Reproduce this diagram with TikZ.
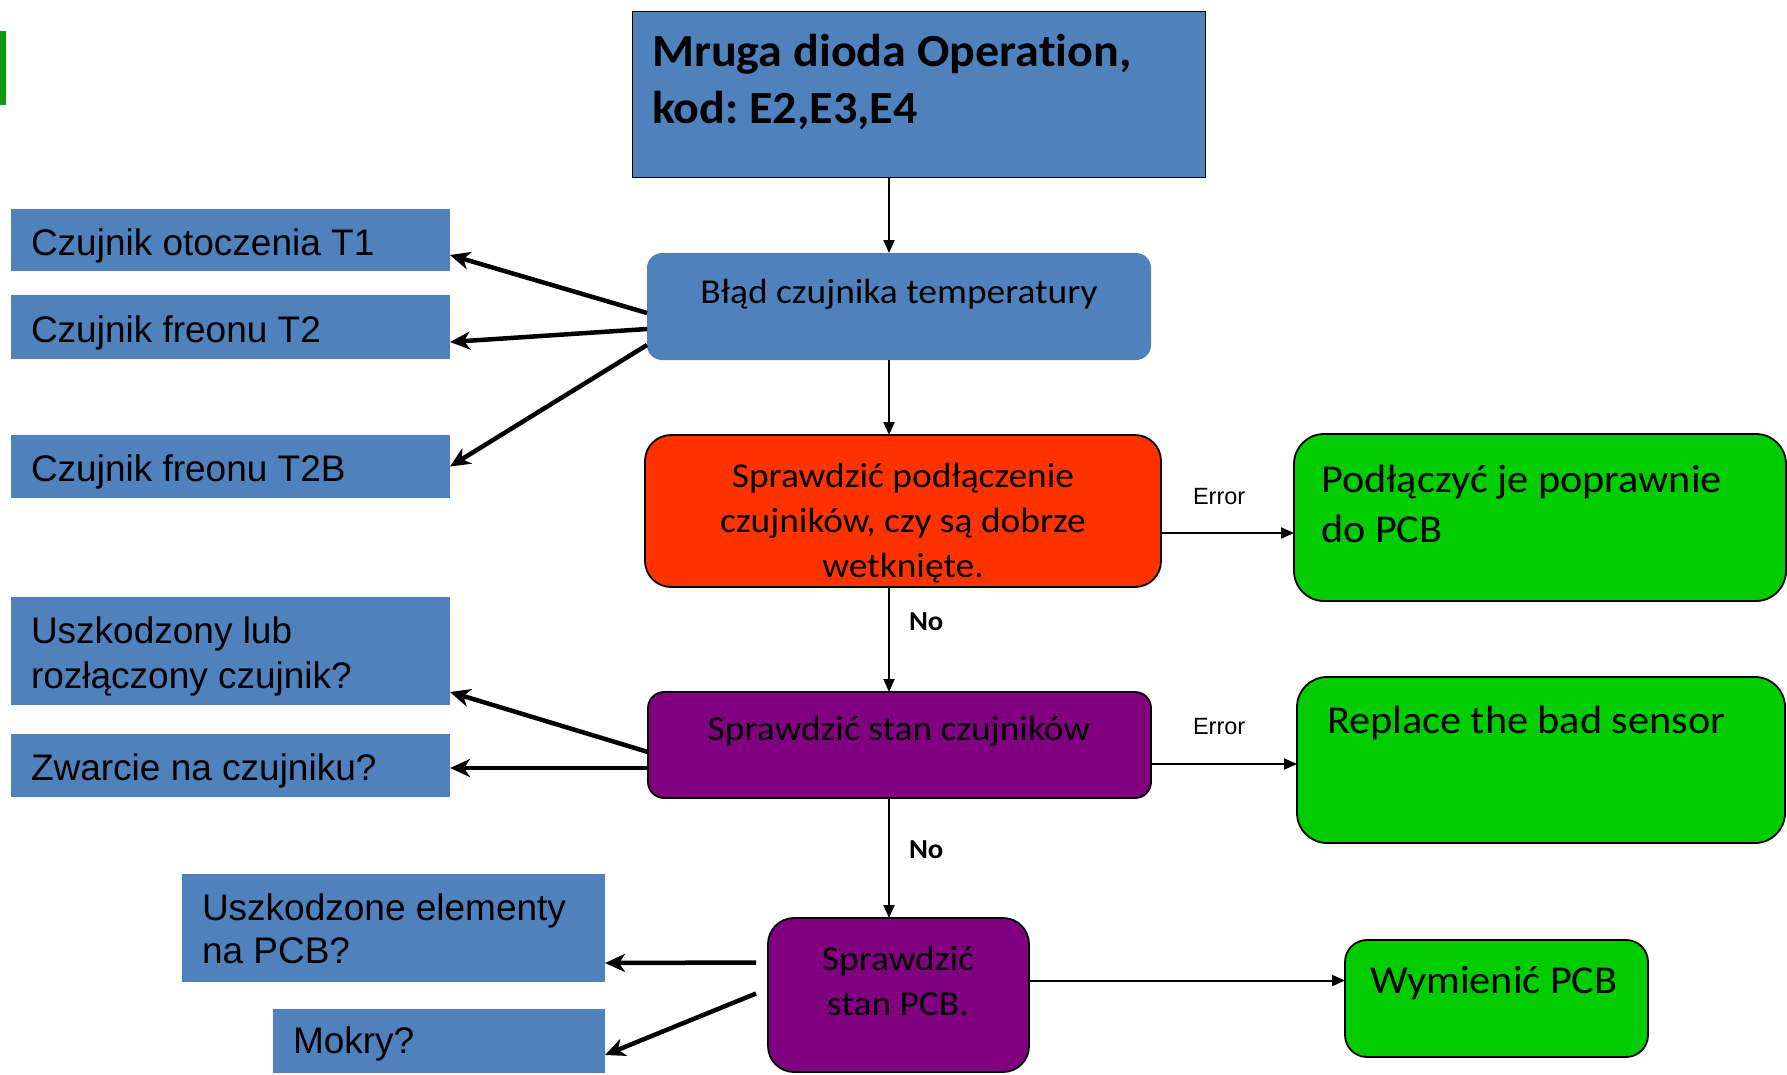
\documentclass[tikz,border=0pt]{standalone}
\usepackage{fontspec}
\setmainfont{Carlito}[FakeStretch=1.07, Ligatures=NoCommon]
\newfontfamily\cboldf{Carlito}[FakeStretch=1.045, Ligatures=NoCommon]
\newfontfamily\arialf{Liberation Sans}
\usetikzlibrary{arrows.meta}
\definecolor{boxblue}{HTML}{4F81BD}
\definecolor{boxred}{HTML}{FF3300}
\definecolor{boxpurple}{HTML}{800080}
\definecolor{boxgreen}{HTML}{00CC00}
\definecolor{bargreen}{HTML}{0C9C0C}
\frenchspacing
\begin{document}
\begin{tikzpicture}[x=1pt,y=-1pt,
  box/.style={inner sep=0pt, outer sep=0pt, anchor=north west},
  sidebox/.style={box, fill=boxblue},
  flowbox/.style={box, draw=black, line width=1.8pt},
  txt/.style={inner sep=0pt, outer sep=0pt},
  ar/.style={txt, font=\arialf\fontsize{37}{44}\selectfont},
  cb/.style={txt, font=\fontsize{35}{44}\selectfont},
  cbig/.style={txt, font=\fontsize{39.5}{50}\selectfont},
  lbl/.style={txt, font=\arialf\fontsize{23.5}{28}\selectfont},
  nolbl/.style={txt, font=\cboldf\bfseries\fontsize{27.5}{32}\selectfont},
  titl/.style={txt, font=\cboldf\bfseries\fontsize{46}{58}\selectfont},
  thinarrow/.style={line width=2pt, -{Triangle[length=13pt,width=11pt]}},
  thickarrow/.style={line width=4.5pt, -{Stealth[length=20pt,width=18pt,inset=6pt]}}]
\useasboundingbox (0,0) rectangle (1787,1074);
\fill[bargreen] (0,31) rectangle (6,105);

% main column boxes
\node[flowbox, fill=boxblue, minimum width=573pt, minimum height=166pt] (top) at (632.5,11.5) {};
\node[box, fill=boxblue, rounded corners=15pt, minimum width=504pt, minimum height=107pt] (blad) at (647,253) {};
\node[flowbox, fill=boxred, rounded corners=26pt, minimum width=516pt, minimum height=152pt] (podl) at (645,435) {};
\node[flowbox, fill=boxpurple, rounded corners=16pt, minimum width=503pt, minimum height=106pt] (stan) at (648,692) {};
\node[flowbox, fill=boxpurple, rounded corners=26pt, minimum width=261pt, minimum height=154pt] (pcb) at (768,918) {};

% right boxes
\node[flowbox, fill=boxgreen, rounded corners=30pt, minimum width=492pt, minimum height=167pt] (fix) at (1294,434) {};
\node[flowbox, fill=boxgreen, rounded corners=30pt, minimum width=488pt, minimum height=166pt] (repl) at (1297,677) {};
\node[flowbox, fill=boxgreen, rounded corners=22pt, minimum width=303pt, minimum height=117pt] (wym) at (1345,940) {};

% left boxes
\node[sidebox, minimum width=439pt, minimum height=62pt] (t1) at (11,209) {};
\node[sidebox, minimum width=439pt, minimum height=64pt] (t2) at (11,295) {};
\node[sidebox, minimum width=439pt, minimum height=63pt] (t2b) at (11,435) {};
\node[sidebox, minimum width=439pt, minimum height=108pt] (uszk) at (11,597) {};
\node[sidebox, minimum width=439pt, minimum height=63pt] (zw) at (11,734) {};
\node[sidebox, minimum width=423pt, minimum height=108pt] (elem) at (182,874) {};
\node[sidebox, minimum width=332pt, minimum height=64pt] (mok) at (273,1009) {};

% texts
\node[titl, anchor=base west] (topA) at (652,66) {Mruga dioda Operation,};
\node[titl, anchor=base west] (topB) at (652,123) {kod: E2,E3,E4};
\node[cb, anchor=base] (bladT) at (899,303) {Błąd czujnika temperatury};
\node[cb, anchor=base] (podlA) at (903,487) {Sprawdzić podłączenie};
\node[cb, anchor=base] (podlB) at (903,532) {czujników, czy są dobrze};
\node[cb, anchor=base] (podlC) at (903,577) {wetknięte.};
\node[cb, anchor=base] (stanT) at (899,740) {Sprawdzić stan czujników};
\node[cb, anchor=base] (pcbA) at (898,970) {Sprawdzić};
\node[cb, anchor=base] (pcbB) at (898,1015) {stan PCB.};
\node[cbig, anchor=base west] (fixA) at (1321,492) {Podłączyć je poprawnie};
\node[cbig, anchor=base west] (fixB) at (1321,542) {do PCB};
\node[cbig, anchor=base west] (replT) at (1327,733) {Replace the bad sensor};
\node[cbig, anchor=base] (wymT) at (1494,993) {Wymienić PCB};

\node[ar, anchor=base west] (t1T) at (31,255) {Czujnik otoczenia T1};
\node[ar, anchor=base west] (t2T) at (31,342) {Czujnik freonu T2};
\node[ar, anchor=base west] (t2bT) at (31,481) {Czujnik freonu T2B};
\node[ar, anchor=base west] (uszkA) at (31,643) {Uszkodzony lub};
\node[ar, anchor=base west] (uszkB) at (31,688) {rozłączony czujnik?};
\node[ar, anchor=base west] (zwT) at (31,780) {Zwarcie na czujniku?};
\node[ar, anchor=base west] (elemA) at (202,920) {Uszkodzone elementy};
\node[ar, anchor=base west] (elemB) at (202,963) {na PCB?};
\node[ar, anchor=base west] (mokT) at (293,1053) {Mokry?};

\node[lbl, anchor=base west] (err1) at (1193,504) {Error};
\node[lbl, anchor=base west] (err2) at (1193,734) {Error};
\node[nolbl, anchor=base west] (no1) at (909,630) {No};
\node[nolbl, anchor=base west] (no2) at (909,858) {No};

% vertical connectors
\coordinate (col) at (889,0);
\draw[thinarrow] (top.south -| col) -- (blad.north -| col);
\draw[thinarrow] (blad.south -| col) -- (podl.north -| col);
\draw[thinarrow] (podl.south -| col) -- (stan.north -| col);
\draw[thinarrow] (stan.south -| col) -- (pcb.north -| col);

% horizontal connectors
\coordinate (e1) at ([yshift=-22pt]podl.east);
\coordinate (e2) at ([yshift=-19pt]stan.east);
\coordinate (e3) at ([yshift=14.5pt]pcb.east);
\draw[thinarrow] (e1) -- (e1 -| fix.west);
\draw[thinarrow] (e2) -- (e2 -| repl.west);
\draw[thinarrow] (e3) -- (e3 -| wym.west);

% thick connectors
\draw[thickarrow] ([yshift=-6.5pt]blad.west) -- ([yshift=-15pt]t1.east);
\draw[thickarrow] ([yshift=-22.5pt]blad.west) -- ([yshift=-15pt]t2.east);
\draw[thickarrow] ([yshift=-38.5pt]blad.west) -- (t2b.east);
\draw[thickarrow] ([yshift=-7pt]stan.west) -- ([yshift=-41pt]uszk.east);
\draw[thickarrow] ([yshift=-23pt]stan.west) -- ([yshift=-2.5pt]zw.east);
\draw[thickarrow] ([xshift=-12pt,yshift=32.5pt]pcb.west) -- ([yshift=-35pt]elem.east);
\draw[thickarrow] ([xshift=-12pt,yshift=1.5pt]pcb.west) -- ([yshift=-14pt]mok.east);
\end{tikzpicture}
\end{document}
